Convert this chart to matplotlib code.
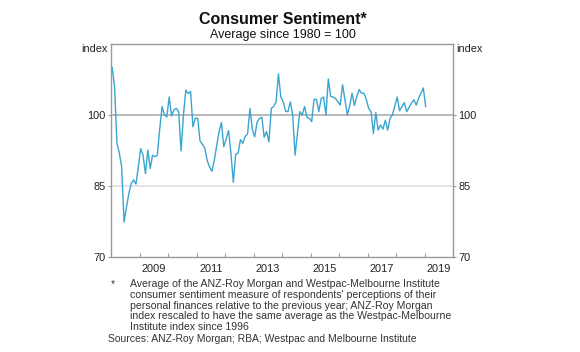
import numpy as np
import matplotlib
matplotlib.use("Agg")
import matplotlib.pyplot as plt
from matplotlib.ticker import FixedLocator, NullFormatter

plt.rcParams['font.family'] = ['Liberation Sans', 'DejaVu Sans']

# monthly index values (Jan 2008 onward)
y2008 = [110, 106, 94, 92, 89, 77.4, 80.5, 83.4, 85.5, 86.3, 85.4, 89]
y2009 = [92.9, 91.5, 87.6, 92.6, 88.7, 91.5, 91.2, 91.5, 97, 101.8, 100, 99.6]
y2010 = [103.8, 99.8, 101.1, 101.4, 100.7, 92.4, 100, 105.3, 104.5, 105, 97.5, 99.3]
y2011 = [99.3, 94.5, 93.8, 93.0, 90.4, 89.0, 88.1, 90.5, 93.5, 96.5, 98.4, 93.3]
y2012 = [95.0, 96.7, 91.9, 85.8, 91.7, 91.9, 94.8, 94.0, 95.5, 96.0, 101.4, 97.0]
y2013 = [95.4, 98.5, 99.3, 99.5, 95.3, 96.5, 94.3, 101.4, 101.8, 102.8, 108.7, 103.8]
y2014 = [102.8, 100.8, 100.7, 102.8, 100, 91.5, 96.2, 100.7, 100, 101.8, 99.5, 99.3]
y2015 = [98.6, 103.3, 103.3, 100.7, 103.5, 103.8, 100, 107.6, 103.9, 103.8, 103.5, 102.8]
y2016 = [102.1, 106.4, 103.2, 100, 101.9, 104.6, 102.0, 103.9, 105.4, 104.6, 104.6, 103.3]
y2017 = [101.4, 100.7, 96.1, 100.5, 96.8, 97.9, 97, 98.9, 96.8, 99.3, 100, 101.9]
y2018 = [103.8, 100.9, 101.8, 102.6, 100.7, 101.6, 102.5, 103.2, 102.1, 103.5, 104.6, 105.7]
y2019 = [101.8]

values = y2008 + y2009 + y2010 + y2011 + y2012 + y2013 + y2014 + y2015 + y2016 + y2017 + y2018 + y2019
dates = 2008 + (np.arange(len(values)) + 0.5) / 12

year_ticks = list(range(2008, 2021))
label_years = [2009, 2011, 2013, 2015, 2017, 2019]
y_ticks = [70, 85, 100]

W, H = 580, 352
fig = plt.figure(figsize=(W / 100, H / 100), dpi=100)
ax = fig.add_axes([111 / W, 1 - 257 / H, (453 - 111) / W, (257 - 44) / H])

grey = '#9a9a9a'
ax.axhline(85, color='#dcdcdc', lw=1.1, zorder=1)
ax.axhline(100, color='#a6a6a6', lw=1.1, zorder=1)
ax.plot(dates, values, color='#3aa5d0', lw=1.0, zorder=3)

ax.set_xlim(2008, 2020)
ax.set_ylim(70, 115)

for s in ax.spines.values():
    s.set_color(grey)
    s.set_linewidth(1.0)

# x: ticks on year boundaries, labels mid-year
ax.xaxis.set_major_locator(FixedLocator(year_ticks))
ax.xaxis.set_major_formatter(NullFormatter())
ax.xaxis.set_minor_locator(FixedLocator([y + 0.5 for y in label_years]))
ax.set_xticklabels([str(y) for y in label_years], minor=True)
ax.tick_params(axis='x', which='major', direction='in', length=3, color=grey)
ax.tick_params(axis='x', which='minor', length=0, pad=5, labelsize=7.9, labelcolor='#222222')

ax.set_yticks(y_ticks)
ax.set_yticklabels([str(v) for v in y_ticks])
ax.tick_params(axis='y', which='both', direction='out', length=2.5, color=grey, pad=1.5,
               labelsize=7.9, labelcolor='#222222', left=True, right=True,
               labelleft=True, labelright=True)

fig.text(108 / W, 1 - 49 / H, 'index', ha='right', va='center', fontsize=7.9, color='#222222')
fig.text(456 / W, 1 - 49 / H, 'index', ha='left', va='center', fontsize=7.9, color='#222222')

fig.text(283 / W, 1 - 19 / H, 'Consumer Sentiment*', ha='center', va='center',
         fontsize=11.5, fontweight='bold', color='#111111')
fig.text(283 / W, 1 - 35 / H, 'Average since 1980 = 100', ha='center', va='center',
         fontsize=9, color='#111111')

note = ["Average of the ANZ-Roy Morgan and Westpac-Melbourne Institute",
        "consumer sentiment measure of respondents' perceptions of their",
        "personal finances relative to the previous year; ANZ-Roy Morgan",
        "index rescaled to have the same average as the Westpac-Melbourne",
        "Institute index since 1996"]
fig.text(111 / W, 1 - 284 / H, '*', ha='left', va='center', fontsize=7.5, color='#333333')
for i, line in enumerate(note):
    fig.text(130 / W, 1 - (284 + i * 10.8) / H, line, ha='left', va='center',
             fontsize=7.6, color='#333333')
fig.text(108 / W, 1 - 339 / H, 'Sources: ANZ-Roy Morgan; RBA; Westpac and Melbourne Institute',
         ha='left', va='center', fontsize=7.5, color='#333333')

fig.savefig('out.png', dpi=100)
